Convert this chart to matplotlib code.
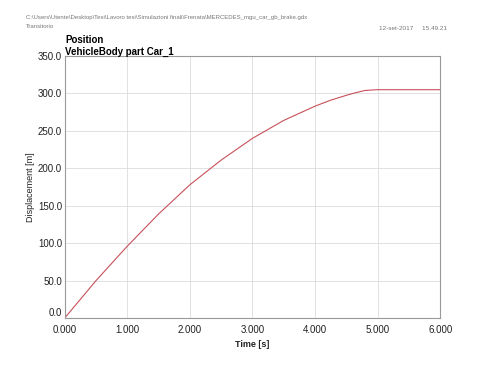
import numpy as np
import matplotlib
matplotlib.use("Agg")
import matplotlib.pyplot as plt

plt.rcParams['font.family'] = ['Liberation Sans', 'DejaVu Sans']

# Data
time_s = [0.0, 0.5, 1.0, 1.5, 2.0, 2.5, 3.0, 3.5, 4.0, 4.25, 4.5, 4.65, 4.8, 5.0, 6.0]
displacement_m = [0.0, 50.0, 96.0, 139.0, 178.0, 211.0, 240.0, 264.0, 283.0, 291.0,
                  297.5, 301.0, 304.0, 305.0, 305.0]
x_ticks = [0, 1, 2, 3, 4, 5, 6]
y_ticks = [0, 50, 100, 150, 200, 250, 300, 350]

fig = plt.figure(figsize=(4.8, 3.71), dpi=100)
ax = fig.add_axes([0.135, 0.143, 0.782, 0.706])

ax.plot(time_s, displacement_m, color='#c8505a', linewidth=0.8)

ax.set_xlim(0, 6)
ax.set_ylim(0, 350)
ax.set_xticks(x_ticks)
ax.set_yticks(y_ticks)
ax.set_xticklabels([f"{v:.3f}" for v in x_ticks])
ax.set_yticklabels([f"{v:.1f}" for v in y_ticks])
ax.tick_params(length=0, labelsize=7, colors='#222222')
ax.tick_params(axis='x', pad=5)
ax.tick_params(axis='y', pad=2)
# the 0.0 label sits a little above the corner
ax.get_yticklabels()[0].set_va('bottom')
ax.grid(True, color='#dcdcdc', linewidth=0.6)
for s in ax.spines.values():
    s.set_color('#999999')
    s.set_linewidth(0.8)

ax.set_xlabel('Time [s]', fontsize=6.5, fontweight='bold', color='#222222', labelpad=4)
ax.set_ylabel('Displacement [m]', fontsize=6.5, color='#222222', labelpad=2)

# header texts
fig.text(26 / 480, 1 - 17 / 371,
         r'C:\Users\Utente\Desktop\Tesi\Lavoro tesi\Simulazioni finali\Frenata\MERCEDES_mgu_car_gb_brake.gdx',
         fontsize=4.3, color='#777777', va='center')
fig.text(26 / 480, 1 - 26 / 371, 'Transitorio', fontsize=4.3, color='#777777', va='center')
fig.text(447 / 480, 1 - 28 / 371, '12-set-2017     15.49.21', fontsize=4.6,
         color='#777777', va='center', ha='right')
fig.text(65 / 480, 1 - 40 / 371, 'Position', fontsize=7, fontweight='bold', va='center')
fig.text(65 / 480, 1 - 52 / 371, 'VehicleBody part Car_1', fontsize=7, fontweight='bold',
         va='center')

fig.savefig('out.png', dpi=100)
